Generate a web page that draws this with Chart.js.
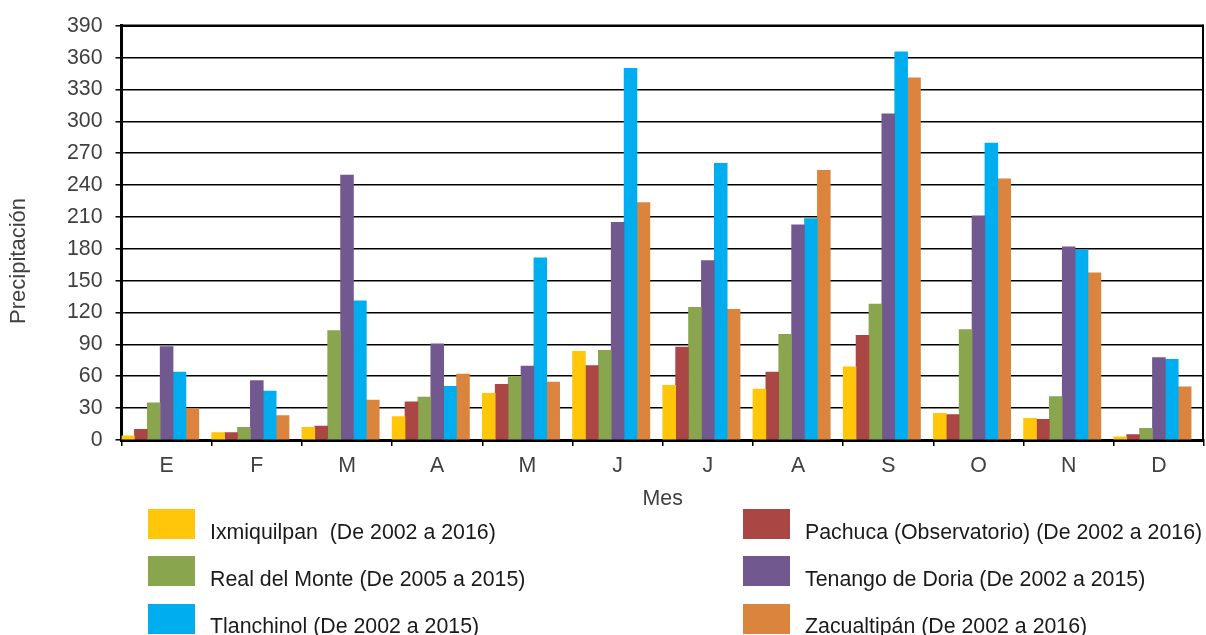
<!DOCTYPE html>
<html>
<head>
<meta charset="utf-8">
<script src="https://cdn.jsdelivr.net/npm/chart.js@4.4.0/dist/chart.umd.min.js"></script>
<style>
  html, body { margin: 0; padding: 0; background: #fff; }
  #wrap { position: relative; width: 1206px; height: 635px; overflow: hidden; }
  canvas { position: absolute; left: 0; top: 0; }
  .sw { position: absolute; width: 47px; height: 29.5px; }
  .lt { position: absolute; font-family: "Liberation Sans", Arial, sans-serif; font-size: 21.33px; line-height: normal; color: #1a1a1a; white-space: pre; }
</style>
</head>
<body>
<div id="wrap"><canvas id="c" width="1206" height="635"></canvas></div>
<script>
// ---- Data ----
const months = ['E', 'F', 'M', 'A', 'M', 'J', 'J', 'A', 'S', 'O', 'N', 'D'];
const ixmiquilpan = [4, 7, 12, 22, 44, 83.5, 51.5, 48, 69, 25, 20.5, 3];
const pachuca     = [10, 7, 13, 36, 52.5, 70, 87.5, 64, 98.5, 24, 19.5, 5];
const realMonte   = [35, 12, 103, 40.5, 60, 84.5, 125, 99.5, 128, 104, 41, 11];
const tenango     = [88, 56, 249.5, 90.5, 69.5, 205, 169, 202.5, 307, 211, 182, 77.5];
const tlanchinol  = [64, 46, 131, 50.5, 171.5, 350, 260.5, 208.5, 365.5, 279.5, 179, 76];
const zacualtipan = [29.5, 23, 37.5, 62, 54.5, 223.5, 123, 254, 341, 246, 157.5, 50];
const seriesNames = [
  'Ixmiquilpan  (De 2002 a 2016)',
  'Pachuca (Observatorio) (De 2002 a 2016)',
  'Real del Monte (De 2005 a 2015)',
  'Tenango de Doria (De 2002 a 2015)',
  'Tlanchinol (De 2002 a 2015)',
  'Zacualtipán (De 2002 a 2016)'
];
const yTicks = [0, 30, 60, 90, 120, 150, 180, 210, 240, 270, 300, 330, 360, 390];
const yAxisTitle = 'Precipitación';
const xAxisTitle = 'Mes';

const seriesValues = [ixmiquilpan, pachuca, realMonte, tenango, tlanchinol, zacualtipan];
const colors = ['#FFC60A', '#AA4644', '#89A54E', '#71588F', '#00AEEF', '#DB843D'];

const datasets = seriesValues.map((vals, i) => ({
  label: seriesNames[i],
  data: vals,
  backgroundColor: colors[i],
  borderWidth: 0,
  categoryPercentage: 1,
  barPercentage: 1
}));
// empty slot that leaves the gap on the right of each month group
datasets.push({ label: '', data: months.map(() => null), backgroundColor: 'rgba(0,0,0,0)', categoryPercentage: 1, barPercentage: 1 });

const FONT = "'Liberation Sans', Arial, sans-serif";
const FS = 21.33;

const frame = {
  id: 'frame',
  afterDraw(chart) {
    const { ctx, chartArea: a } = chart;
    ctx.save();
    ctx.strokeStyle = '#000';
    ctx.lineWidth = 2;
    ctx.beginPath();
    ctx.moveTo(a.right - 1, a.top - 1);
    ctx.lineTo(a.right - 1, a.bottom);
    ctx.stroke();
    ctx.lineWidth = 2.4;
    ctx.beginPath();
    ctx.moveTo(a.left, a.top);
    ctx.lineTo(a.right, a.top);
    ctx.stroke();
    // y-axis title, centred on the whole figure height like the original
    ctx.translate(19, chart.height * 0.411);
    ctx.rotate(-Math.PI / 2);
    ctx.fillStyle = '#404040';
    ctx.font = '22px ' + FONT;
    ctx.textAlign = 'center';
    ctx.textBaseline = 'middle';
    ctx.fillText(yAxisTitle, 0, 0);
    ctx.restore();
  }
};

new Chart(document.getElementById('c'), {
  type: 'bar',
  data: { labels: months, datasets },
  options: {
    responsive: false,
    animation: false,
    devicePixelRatio: 1,
    layout: { padding: { top: 24.5, right: 2, bottom: 123, left: 0 } },
    plugins: { legend: { display: false }, tooltip: { enabled: false } },
    scales: {
      x: {
        type: 'category',
        afterFit(s) { s.height = 72; },
        grid: { offset: true, drawOnChartArea: false, drawTicks: true, tickLength: 6, color: '#000', lineWidth: 1.5 },
        border: { display: true, color: '#000', width: 3 },
        ticks: { font: { family: FONT, size: FS }, color: '#404040', padding: 7, maxRotation: 0 },
        title: { display: true, text: xAxisTitle, font: { family: FONT, size: FS }, color: '#404040', padding: { top: 0, bottom: 0.5 } }
      },
      y: {
        min: yTicks[0],
        max: yTicks[yTicks.length - 1],
        afterFit(s) { s.width = 121.5; },
        afterBuildTicks(s) { s.ticks = yTicks.map(v => ({ value: v })); },
        grid: { color: '#000', lineWidth: 1.6, drawTicks: true, tickLength: 6, tickColor: '#000', tickWidth: 1.5 },
        border: { display: true, color: '#000', width: 3 },
        ticks: { font: { family: FONT, size: FS }, color: '#404040', padding: 13 },
        title: { display: false }
      }
    }
  },
  plugins: [frame]
});

// ---- Legend (two columns, three rows) ----
const wrap = document.getElementById('wrap');
const swatchX = [148, 743];
const textX = [210, 805];
const swatchTop = [509, 556, 604];
const textTop = [520.2, 567.4, 613.7];
seriesNames.forEach((name, i) => {
  const col = i % 2, row = Math.floor(i / 2);
  const sw = document.createElement('div');
  sw.className = 'sw';
  sw.style.left = swatchX[col] + 'px';
  sw.style.top = swatchTop[row] + 'px';
  sw.style.background = colors[i];
  wrap.appendChild(sw);
  const t = document.createElement('div');
  t.className = 'lt';
  t.style.left = textX[col] + 'px';
  t.style.top = textTop[row] + 'px';
  t.textContent = name;
  wrap.appendChild(t);
});
</script>
</body>
</html>
